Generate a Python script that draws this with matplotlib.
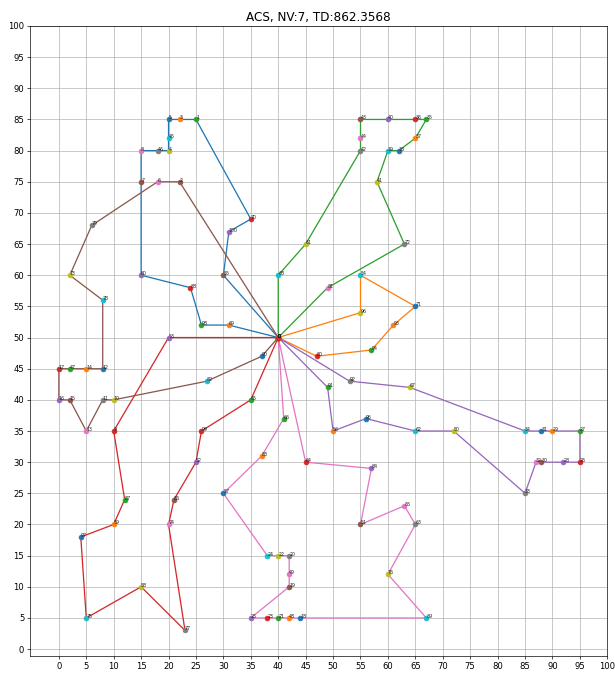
import matplotlib
matplotlib.use("Agg")
import matplotlib.pyplot as plt

# Node coordinates (id -> x, y)
node_ids = list(range(0, 101))
node_x = [40, 25, 22, 22, 20, 20, 18, 15, 15, 10, 10, 8, 8, 5, 5, 2, 0, 0, 44, 42,
          42, 40, 40, 38, 38, 35, 95, 95, 92, 90, 88, 88, 87, 85, 85, 67, 65, 65, 62, 60,
          60, 58, 55, 55, 55, 20, 18, 2, 42, 42, 72, 55, 25, 20, 55, 30, 50, 30, 15, 10,
          15, 45, 65, 65, 45, 35, 41, 64, 40, 31, 35, 65, 63, 2, 20, 5, 60, 23, 8, 6,
          47, 49, 27, 37, 57, 63, 21, 12, 24, 67, 37, 49, 53, 61, 57, 56, 55, 4, 26, 26,
          31]
node_y = [50, 85, 75, 85, 80, 85, 75, 75, 80, 35, 40, 40, 45, 35, 45, 40, 40, 45, 5, 10,
          15, 5, 15, 5, 15, 5, 30, 35, 30, 35, 30, 35, 30, 25, 35, 85, 85, 82, 80, 80,
          85, 75, 80, 85, 82, 82, 80, 45, 5, 12, 35, 20, 30, 50, 60, 60, 35, 25, 10, 20,
          60, 65, 35, 20, 30, 40, 37, 42, 60, 52, 69, 55, 65, 60, 20, 5, 12, 3, 56, 68,
          47, 58, 43, 31, 29, 23, 24, 24, 58, 5, 47, 42, 43, 52, 48, 37, 54, 18, 52, 35,
          67]

# Routes (node ids, depot 0 at both ends)
route_1 = [0, 69, 98, 88, 60, 7, 8, 46, 4, 45, 5, 3, 1, 70, 100, 55, 0]
route_2 = [0, 96, 54, 71, 93, 94, 80, 0]
route_3 = [0, 81, 72, 41, 39, 38, 37, 35, 36, 40, 43, 44, 42, 61, 68, 0]
route_4 = [0, 65, 99, 52, 86, 74, 77, 58, 75, 97, 59, 87, 9, 53, 0]
route_5 = [0, 92, 67, 34, 31, 29, 27, 26, 28, 30, 32, 33, 50, 62, 95, 56, 91, 0]
route_6 = [0, 2, 6, 79, 73, 78, 12, 14, 47, 17, 16, 15, 13, 11, 10, 82, 90, 0]
route_7 = [0, 64, 84, 51, 85, 63, 76, 89, 18, 48, 21, 23, 25, 19, 49, 20, 22, 24,
           57, 83, 66, 0]
routes = [route_1, route_2, route_3, route_4, route_5, route_6, route_7]

title_text = "ACS, NV:7, TD:862.3568"
x_ticks = list(range(0, 101, 5))
y_ticks = list(range(0, 101, 5))

DPI = 61.5
fig = plt.figure(figsize=(615 / DPI, 673 / DPI), dpi=DPI)
ax = fig.add_axes([0.0493, 0.0253, 0.9382, 0.9361])

for route in routes:
    xs = [node_x[n] for n in route]
    ys = [node_y[n] for n in route]
    ax.plot(xs, ys, linewidth=1.5)

for route in routes:
    for n in route:
        ax.scatter(node_x[n], node_y[n], s=30, zorder=3)
        ax.text(node_x[n], node_y[n], str(n), fontsize=5.5, color="#222222", zorder=4)

ax.set_xticks(x_ticks)
ax.set_yticks(y_ticks)
ax.set_xlim(-5.2, 100)
ax.set_ylim(-1.1, 100)
ax.grid(True)
ax.set_title(title_text, fontsize=14)

fig.savefig("out.png", dpi=DPI)
